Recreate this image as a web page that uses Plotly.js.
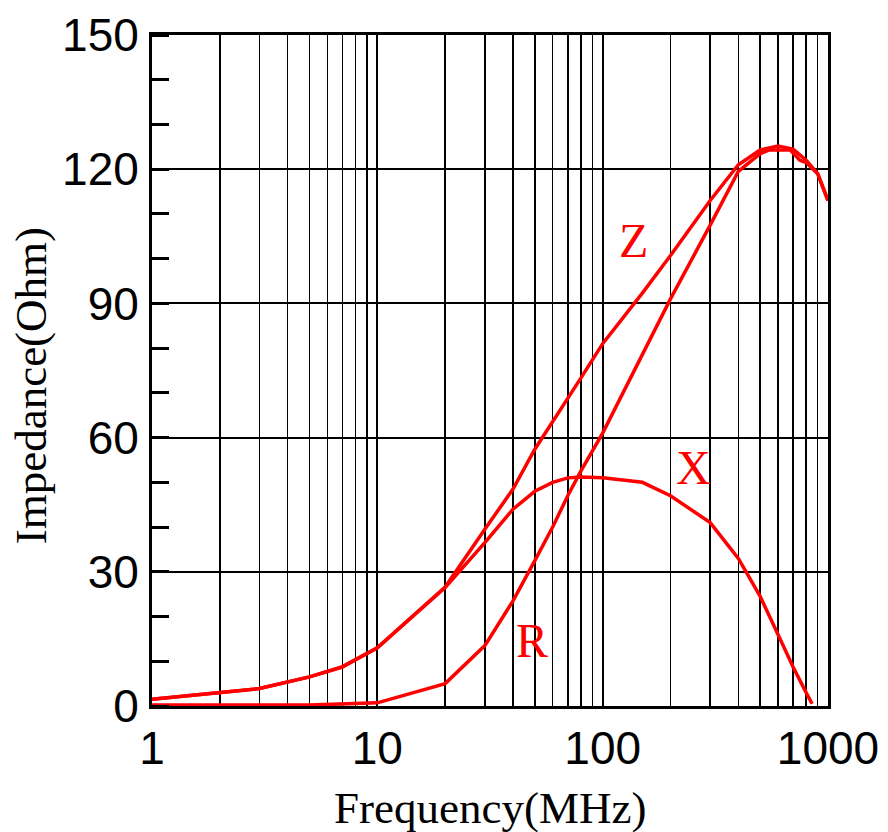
<!DOCTYPE html>
<html>
<head>
<meta charset="utf-8">
<script src="https://cdn.plot.ly/plotly-3.0.1.min.js"></script>
<style>html,body{margin:0;padding:0;background:#fff;}#chart{width:888px;height:832px;}</style>
</head>
<body>
<div id="chart"></div>
<script>
// Frequencies (MHz) and impedance values (Ohm)
const freqZ = [1, 2, 3, 5, 7, 10, 20, 30, 40, 50, 60, 70, 80, 100, 150, 200, 300, 400, 500, 600, 700, 800, 900, 1000];
const valZ  = [1.5, 2.9, 3.9, 6.5, 8.8, 13, 26.6, 39.5, 48.5, 57.4, 63.5, 68.8, 73.3, 81, 92.3, 100.7, 113, 121, 124.3, 125.2, 124.5, 122, 119, 113];

const freqX = [1, 2, 3, 5, 7, 10, 20, 30, 40, 50, 60, 70, 80, 100, 150, 200, 300, 400, 500, 600, 700, 800, 850];
const valX  = [1.5, 2.9, 3.9, 6.5, 8.7, 13, 26.5, 36.5, 44, 48, 50, 51, 51.2, 51, 50, 47, 41, 33, 24.5, 16, 8.7, 3, 0.5];

const freqR = [1, 2, 5, 10, 20, 30, 40, 50, 60, 70, 80, 100, 150, 200, 300, 400, 500, 550, 680, 750, 800, 900, 1000];
const valR  = [0.2, 0.2, 0.2, 0.7, 5, 13.5, 23.5, 32.5, 40, 47, 52.5, 61, 78.6, 91, 107.5, 119.5, 123.5, 124.3, 124.3, 122, 121.5, 119, 113];

const curveLabels = ["Z", "X", "R"];
const labelFreq = [136.5, 252, 48.6];
const labelVal = [104, 53.3, 14.7];

const yTicks = [0, 30, 60, 90, 120, 150];
const xTicks = [1, 10, 100, 1000];

const xTitle = "Frequency(MHz)";
const yTitle = "Impedance(Ohm)";

const red = "#ff0000";
const lineStyle = {color: red, width: 3.5};

const traces = [
  {x: freqZ, y: valZ, mode: "lines", line: lineStyle, name: "Z"},
  {x: freqX, y: valX, mode: "lines", line: lineStyle, name: "X"},
  {x: freqR, y: valR, mode: "lines", line: lineStyle, name: "R"}
];

const tickFont = {family: "Liberation Sans, Arial, sans-serif", size: 46, color: "#000"};
const titleFont = {family: "Liberation Serif, Times New Roman, serif", size: 45, color: "#000"};

const annotations = curveLabels.map((t, i) => ({
  x: Math.log10(labelFreq[i]), y: labelVal[i], xref: "x", yref: "y",
  text: t, showarrow: false,
  font: {family: "Liberation Serif, Times New Roman, serif", size: 48, color: red}
}));
annotations.push({
  x: -0.179, y: 0.478, xref: "paper", yref: "paper",
  text: yTitle, textangle: -90, showarrow: false,
  xanchor: "center", yanchor: "middle", font: titleFont
});
annotations.push({
  x: 0.5, y: -0.152, xref: "paper", yref: "paper",
  text: xTitle, showarrow: false,
  xanchor: "center", yanchor: "middle", font: titleFont
});

const layout = {
  width: 888, height: 832,
  margin: {l: 152, r: 60, t: 35, b: 126},
  paper_bgcolor: "#fff", plot_bgcolor: "#fff",
  showlegend: false,
  annotations: annotations,
  xaxis: {
    type: "log", range: [0, 3],
    tickvals: xTicks, ticktext: xTicks.map(String),
    showgrid: true, gridcolor: "#000", gridwidth: 2,
    minor: {dtick: "D1", showgrid: true, gridcolor: "#000", gridwidth: 1.5, ticks: ""},
    showline: true, linecolor: "#000", linewidth: 3, mirror: true,
    ticks: "", zeroline: false,
    ticklabelstandoff: 0,
    tickfont: tickFont
  },
  yaxis: {
    range: [0, 150],
    tickvals: yTicks,
    showgrid: true, gridcolor: "#000", gridwidth: 2,
    minor: {dtick: 10, ticks: "inside", ticklen: 17, tickwidth: 3, tickcolor: "#000", showgrid: false},
    showline: true, linecolor: "#000", linewidth: 3, mirror: true,
    ticks: "", zeroline: false,
    ticklabelstandoff: 1,
    tickfont: tickFont
  }
};

Plotly.newPlot("chart", traces, layout, {displayModeBar: false, staticPlot: true});
</script>
</body>
</html>
